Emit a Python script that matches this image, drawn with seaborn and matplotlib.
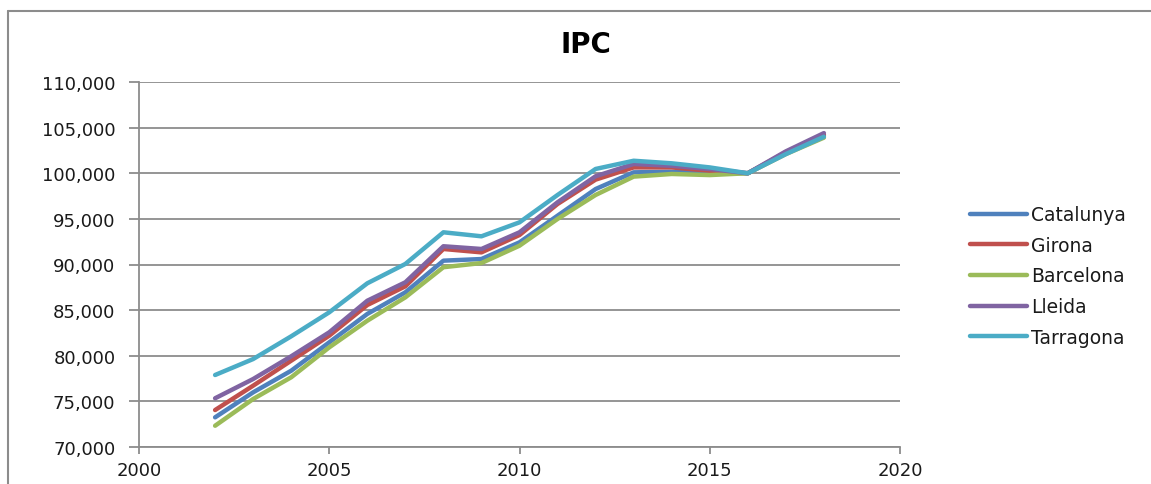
import matplotlib
matplotlib.use("Agg")
import matplotlib.pyplot as plt
from matplotlib.lines import Line2D
from matplotlib.ticker import FuncFormatter, MultipleLocator
import seaborn as sns
import pandas as pd

years = list(range(2002, 2019))
catalunya = [73.25, 75.99, 78.36, 81.47, 84.58, 86.95, 90.42, 90.60, 92.43, 95.35, 98.27, 100.10, 100.16, 100.10, 100.00, 102.2, 104.1]
girona    = [74.05, 76.72, 79.46, 82.20, 85.56, 87.61, 91.70, 91.33, 93.23, 96.63, 99.30, 100.64, 100.64, 100.27, 100.00, 102.3, 104.2]
barcelona = [72.33, 75.26, 77.64, 80.92, 83.84, 86.40, 89.70, 90.16, 92.06, 94.99, 97.62, 99.63, 99.92, 99.80, 100.00, 102.1, 103.9]
lleida    = [75.34, 77.45, 79.94, 82.57, 86.03, 88.05, 92.00, 91.70, 93.53, 96.82, 99.67, 101.01, 100.82, 100.46, 100.00, 102.4, 104.4]
tarragona = [77.89, 79.64, 82.13, 84.76, 87.94, 90.06, 93.53, 93.09, 94.62, 97.62, 100.47, 101.37, 101.09, 100.64, 100.00, 102.1, 104.0]

series_names = ["Catalunya", "Girona", "Barcelona", "Lleida", "Tarragona"]
series_values = [catalunya, girona, barcelona, lleida, tarragona]
colors = ["#4F81BD", "#C0504D", "#9BBB59", "#8064A2", "#4BACC6"]

rows = []
for name, vals in zip(series_names, series_values):
    for y, v in zip(years, vals):
        rows.append({"year": y, "value": v, "serie": name})
df = pd.DataFrame(rows)

sns.set_theme(style="white")
plt.rcParams["font.family"] = ["DejaVu Sans"]

W, H = 1151, 485
fig = plt.figure(figsize=(W / 100, H / 100), dpi=100)
ax = fig.add_axes([139 / W, 1 - 448 / H, (900 - 139) / W, (448 - 83) / H])

sns.lineplot(data=df, x="year", y="value", hue="serie", hue_order=series_names,
             palette=colors, linewidth=3.2, ax=ax, legend=True)
for ln in ax.lines:
    ln.set_solid_capstyle("round")
    ln.set_solid_joinstyle("round")

grid_col = "#8c8c8c"
ax.set_xlim(2000, 2020)
ax.set_ylim(70, 110)
ax.xaxis.set_major_locator(MultipleLocator(5))
ax.yaxis.set_major_locator(MultipleLocator(5))
ax.yaxis.set_major_formatter(FuncFormatter(lambda v, p: f"{v:.3f}".replace(".", ",")))
ax.xaxis.set_major_formatter(FuncFormatter(lambda v, p: f"{int(round(v))}"))
ax.grid(axis="y", color=grid_col, linewidth=1.3)
ax.grid(axis="x", visible=False)
ax.set_axisbelow(True)
for s in ["top", "right"]:
    ax.spines[s].set_visible(False)
for s in ["left", "bottom"]:
    ax.spines[s].set_color(grid_col)
    ax.spines[s].set_linewidth(1.3)
ax.tick_params(axis="y", which="major", left=True, length=7, width=1.3, color=grid_col,
               pad=10, labelsize=13, labelcolor="#1a1a1a")
ax.tick_params(axis="x", which="major", bottom=True, length=5, width=1.3, color=grid_col,
               pad=5, labelsize=13, labelcolor="#1a1a1a")
ax.set_xlabel("")
ax.set_ylabel("")

leg = ax.legend(loc="center left", bbox_to_anchor=(961 / W, 1 - 277 / H),
                bbox_transform=fig.transFigure, frameon=False, handlelength=3.0,
                handletextpad=0.25, labelspacing=0.62, borderpad=0, fontsize=13.5)
for t in leg.get_texts():
    t.set_color("#1a1a1a")
for h in leg.get_lines():
    h.set_linewidth(3.2)

fig.text(586 / W, 1 - 45 / H, "IPC", ha="center", va="center", fontsize=20,
         fontweight="bold", color="black")

fig.add_artist(Line2D([8 / W, 1], [1 - 12 / H, 1 - 12 / H], transform=fig.transFigure,
                      color=grid_col, linewidth=1.5))
fig.add_artist(Line2D([8 / W, 8 / W], [0, 1 - 12 / H], transform=fig.transFigure,
                      color=grid_col, linewidth=1.5))

fig.savefig("out.png", dpi=100, facecolor="white")
